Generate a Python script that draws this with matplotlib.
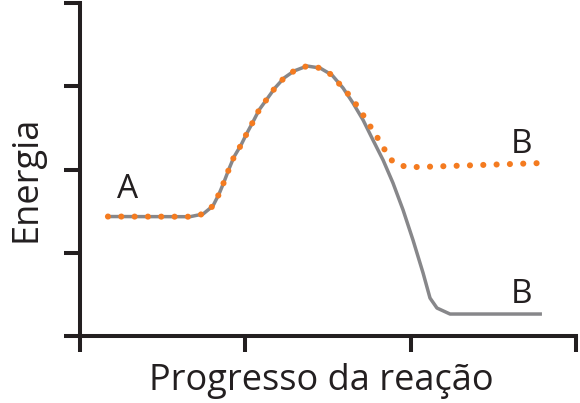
import matplotlib
matplotlib.use("Agg")
import matplotlib.pyplot as plt

plt.rcParams['font.family'] = ['Open Sans', 'DejaVu Sans']

# curve (x = reaction progress, y = energy)
gray_x = [0.169, 0.665, 0.744, 0.804, 0.841, 0.871, 0.901, 0.931, 0.974, 1.010,
          1.046, 1.083, 1.131, 1.179, 1.234, 1.294, 1.373, 1.452, 1.524, 1.591,
          1.651, 1.712, 1.772, 1.833, 1.893, 1.954, 2.014, 2.075, 2.117, 2.159,
          2.238, 2.794]
gray_y = [1.435, 1.433, 1.465, 1.562, 1.706, 1.850, 2.006, 2.150, 2.294, 2.438,
          2.571, 2.715, 2.847, 2.979, 3.099, 3.183, 3.243, 3.219, 3.135, 2.979,
          2.799, 2.595, 2.354, 2.114, 1.838, 1.514, 1.153, 0.757, 0.456, 0.336,
          0.264, 0.264]

orange_x = gray_x[:19] + [1.579, 1.627, 1.681, 1.724, 1.766, 1.808, 1.851,
                          1.893, 1.972, 2.050, 2.800]
orange_y = gray_y[:19] + [3.003, 2.895, 2.751, 2.619, 2.486, 2.354, 2.210,
                          2.090, 2.030, 2.030, 2.078]

x_ticks = [0, 1, 2, 3]
y_ticks = [0, 1, 2, 3, 4]

ink = '#231f20'

fig = plt.figure(figsize=(5.8, 4.03), dpi=100)
ax = fig.add_axes([80 / 580, 67 / 403, 496 / 580, 333 / 403])

ax.plot(gray_x, gray_y, color='#87878a', lw=2.5, solid_capstyle='butt',
        solid_joinstyle='round')
ax.plot(orange_x, orange_y, color='#f47b20', lw=4.4,
        linestyle=(0, (0.01, 2.17)), dash_capstyle='round')

ax.text(0.29, 1.66, 'A', fontsize=24, color=ink, ha='center', va='baseline')
ax.text(2.67, 2.20, 'B', fontsize=24, color=ink, ha='center', va='baseline')
ax.text(2.67, 0.40, 'B', fontsize=24, color=ink, ha='center', va='baseline')

ax.set_xlim(0, 3)
ax.set_ylim(0, 4)
ax.set_xticks(x_ticks)
ax.set_yticks(y_ticks)
ax.set_xticklabels([])
ax.set_yticklabels([])
ax.spines['top'].set_visible(False)
ax.spines['right'].set_visible(False)
for s in ('left', 'bottom'):
    ax.spines[s].set_linewidth(2.9)
    ax.spines[s].set_color(ink)
    ax.spines[s].set_capstyle('projecting')
ax.tick_params(length=11.5, width=2.9, color=ink)

fig.text(321 / 580, 13 / 403, 'Progresso da reação', fontsize=26, color=ink,
         ha='center', va='baseline')
fig.text(26 / 580, 224 / 403, 'Energia', fontsize=26, color=ink,
         ha='center', va='center', rotation=90)

fig.savefig('out.png', dpi=100)
